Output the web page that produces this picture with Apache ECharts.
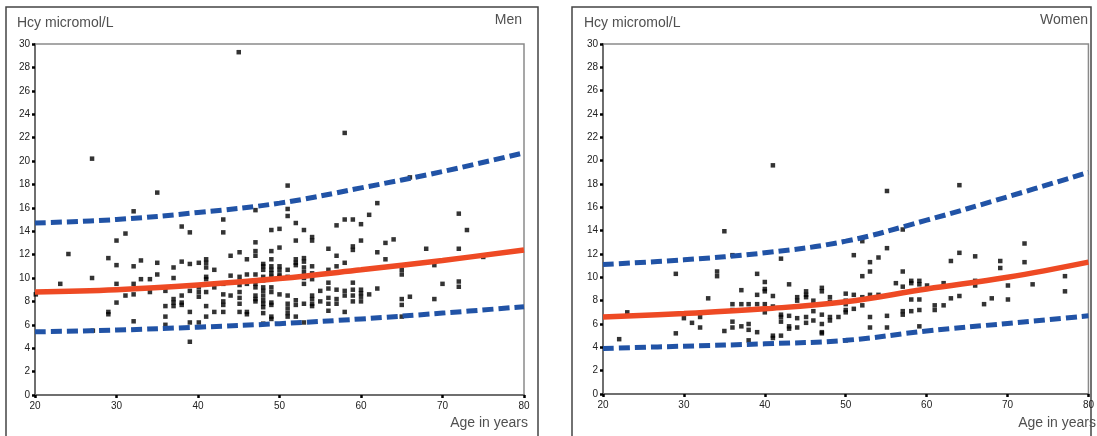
<!DOCTYPE html>
<html>
<head>
<meta charset="utf-8">
<script src="https://cdn.jsdelivr.net/npm/echarts@6/dist/echarts.min.js"></script>
<style>
  html, body { margin: 0; padding: 0; background: #fff; }
  #chart { width: 1097px; height: 436px; }
</style>
</head>
<body>
<div id="chart"></div>
<script>
const curveAges = [20, 30, 40, 50, 60, 70, 80];

const menMean  = [8.8, 9.0, 9.4, 9.95, 10.7, 11.5, 12.4];
const menUpper = [14.7, 15.0, 15.6, 16.4, 17.7, 19.1, 20.7];
const menLower = [5.4, 5.55, 5.8, 6.1, 6.5, 7.0, 7.55];

const womenMean  = [6.6, 6.9, 7.3, 7.9, 9.0, 10.0, 11.3];
const womenUpper = [11.1, 11.5, 12.1, 13.1, 14.9, 16.9, 19.0];
const womenLower = [3.9, 4.1, 4.3, 4.6, 5.4, 6.05, 6.7];

// [age, Hcy]
const menPoints = [
  [20.1,8.6],[23.1,9.5],[24.1,12.05],[27.0,20.2],[27.0,10.0],[27.1,5.5],[29.0,11.7],[29.0,7.1],[29.0,6.9],
  [30.0,13.2],[30.0,11.1],[30.0,9.5],[30.0,7.9],[31.1,13.8],[31.1,8.5],[32.1,15.7],[32.1,11.0],[32.1,9.5],
  [32.1,8.6],[32.1,6.3],[33.0,11.5],[33.0,9.9],[34.1,9.9],[34.1,8.8],[35.0,17.3],[35.0,11.3],[35.0,10.3],
  [36.0,8.9],[36.0,7.6],[36.0,6.7],[36.0,6.0],[37.0,10.9],[37.0,10.0],[37.0,8.2],[37.0,7.9],[37.0,7.6],
  [38.0,14.4],[38.0,11.4],[38.0,8.5],[38.0,7.9],[38.0,7.7],[39.0,13.9],[39.0,11.2],[39.0,8.9],[39.0,7.1],
  [39.0,6.2],[39.0,4.55],[40.1,11.3],[40.1,9.2],[40.1,8.8],[40.1,8.4],[40.1,6.2],[41.0,11.6],[41.0,11.3],
  [41.0,10.9],[41.0,10.1],[41.0,9.9],[41.0,8.8],[41.0,7.6],[41.0,6.7],[42.0,10.7],[42.0,9.2],[42.0,7.1],
  [43.1,15.0],[43.1,13.9],[43.1,9.5],[43.1,8.6],[43.1,8.0],[43.1,7.7],[43.1,7.1],[44.0,11.9],[44.0,10.2],
  [44.0,8.5],[45.0,29.3],[45.1,12.2],[45.1,10.1],[45.1,9.7],[45.1,9.4],[45.1,8.8],[45.1,8.3],[45.1,7.8],
  [45.1,7.1],[46.0,11.6],[46.0,10.3],[46.0,9.5],[46.0,7.1],[46.0,6.9],[47.05,15.8],[47.05,13.05],[47.05,12.3],
  [47.05,11.9],[47.05,10.3],[47.05,9.5],[47.05,9.2],[47.05,8.5],[47.05,8.2],[47.05,8.0],[48.0,11.2],[48.0,11.0],
  [48.0,10.7],[48.0,10.1],[48.0,9.8],[48.0,9.2],[48.0,8.9],[48.0,8.5],[48.0,8.1],[48.0,7.8],[48.0,7.5],
  [48.0,7.0],[48.0,6.1],[49.0,14.1],[49.0,12.3],[49.0,11.6],[49.0,11.0],[49.0,10.7],[49.0,10.4],[49.0,10.1],
  [49.0,9.2],[49.0,8.8],[49.0,7.9],[49.0,7.7],[49.0,6.7],[49.0,6.5],[50.0,14.2],[50.0,12.6],[50.0,11.0],
  [50.0,10.7],[50.0,10.3],[50.0,10.1],[50.0,8.6],[51.0,17.9],[51.0,15.9],[51.0,15.3],[51.0,10.7],[51.0,10.1],
  [51.0,8.5],[51.0,7.8],[51.0,7.4],[51.0,7.0],[51.0,6.7],[52.0,14.7],[52.0,13.2],[52.0,11.6],[52.0,11.3],
  [52.0,11.1],[52.0,8.1],[52.0,7.7],[52.0,6.7],[53.0,14.1],[53.0,11.7],[53.0,11.4],[53.0,10.9],[53.0,10.5],
  [53.0,10.0],[53.0,9.5],[53.0,7.8],[53.0,6.2],[54.0,13.5],[54.0,13.2],[54.0,11.0],[54.0,10.4],[54.0,9.9],
  [54.0,8.5],[54.0,8.2],[54.0,7.8],[54.0,7.6],[55.0,8.9],[55.0,8.0],[56.0,12.5],[56.0,10.7],[56.0,9.6],
  [56.0,9.1],[56.0,8.3],[56.0,7.8],[56.0,7.2],[57.0,14.5],[57.0,11.9],[57.0,11.0],[57.0,9.0],[57.0,8.2],
  [57.0,7.8],[58.0,22.4],[58.0,15.0],[58.0,11.3],[58.0,8.9],[58.0,8.5],[58.0,7.1],[59.0,15.0],[59.0,12.7],
  [59.0,12.4],[59.0,9.6],[59.0,9.0],[59.0,8.5],[59.0,8.0],[60.0,14.6],[60.0,13.2],[60.0,9.0],[60.0,8.7],
  [60.0,8.4],[60.0,8.0],[61.0,15.4],[61.0,8.6],[62.0,16.4],[62.0,12.2],[62.0,9.1],[63.0,13.0],[63.0,11.6],
  [64.0,13.3],[65.0,10.7],[65.0,10.3],[65.0,8.2],[65.0,7.7],[65.0,6.7],[66.0,18.6],[66.0,8.4],[68.0,12.5],
  [69.0,11.1],[69.0,8.2],[70.0,9.5],[72.0,15.5],[72.0,12.5],[72.0,9.7],[72.0,9.25],[73.0,14.1],[75.0,11.8]
];

const womenPoints = [
  [22.0,4.7],[23.0,7.0],[29.0,10.3],[29.0,5.2],[30.0,6.5],[31.0,6.1],[32.0,6.6],[32.0,5.7],[33.0,8.2],
  [34.1,10.5],[34.1,10.1],[35.0,13.95],[35.0,5.4],[36.0,11.9],[36.0,7.7],[36.0,7.2],[36.0,6.2],[36.0,5.7],
  [37.1,8.9],[37.1,7.7],[37.1,5.8],[38.0,7.7],[38.0,6.0],[38.0,5.5],[38.0,4.6],[39.05,10.3],[39.05,8.5],
  [39.05,7.7],[39.05,5.3],[40.0,9.6],[40.0,9.0],[40.0,8.8],[40.0,7.7],[40.0,7.0],[41.0,19.6],[41.0,8.4],
  [41.0,7.5],[41.0,5.0],[41.0,4.8],[42.0,11.6],[42.0,6.8],[42.0,6.6],[42.0,6.2],[42.0,5.0],[43.0,9.4],
  [43.0,6.7],[43.0,5.8],[43.0,5.6],[44.0,8.3],[44.0,8.0],[44.0,6.5],[44.0,5.7],[45.1,8.8],[45.1,8.5],
  [45.1,8.3],[45.1,6.6],[45.1,6.1],[46.0,8.0],[46.0,7.1],[46.0,6.3],[47.05,9.1],[47.05,8.8],[47.05,6.8],
  [47.05,6.0],[47.05,5.3],[47.05,5.2],[48.05,8.3],[48.05,7.9],[48.05,6.6],[48.05,6.3],[49.1,6.6],[50.0,8.6],
  [50.0,8.0],[50.0,7.7],[50.0,7.2],[50.0,7.0],[50.0,4.6],[51.0,11.9],[51.0,8.5],[51.0,7.3],[52.05,13.1],
  [52.05,10.1],[52.05,8.3],[52.05,7.6],[53.0,11.3],[53.0,10.5],[53.0,8.5],[53.0,6.6],[53.0,5.7],[54.05,11.7],
  [54.05,8.5],[55.1,17.4],[55.1,12.5],[55.1,6.7],[55.1,5.7],[56.2,9.5],[57.05,14.1],[57.05,10.5],[57.05,9.2],
  [57.05,7.1],[57.05,6.8],[58.1,9.7],[58.1,9.5],[58.1,8.1],[58.1,7.1],[59.1,9.7],[59.1,9.4],[59.1,8.1],
  [59.1,7.2],[59.1,5.8],[60.05,9.3],[61.0,7.6],[61.0,7.2],[62.1,9.5],[62.1,7.6],[63.0,11.4],[63.0,8.2],
  [64.05,17.9],[64.05,12.1],[64.05,8.4],[66.0,11.8],[66.0,9.7],[66.0,9.3],[67.1,7.7],[68.05,8.2],[69.1,11.4],
  [69.1,10.8],[70.05,9.3],[70.05,8.1],[72.1,12.9],[72.1,11.3],[73.1,9.4],[77.1,10.1],[77.1,8.8]
];

const zip = (xs, ys) => xs.map((x, i) => [x, ys[i]]);

const FONT = '"Liberation Sans", Arial, sans-serif';
const RED = '#ee4a24';
const BLUE = '#2153a6';

function xAxisFor(gridIndex) {
  return {
    type: 'value', gridIndex, min: 20, max: 80, interval: 10,
    axisLine: { lineStyle: { color: '#6f6f6f', width: 2 } },
    axisTick: { length: 3, lineStyle: { color: '#000', width: 2.5 } },
    axisLabel: { color: '#222', fontSize: 10, fontFamily: FONT, margin: 6 },
    splitLine: { show: false }
  };
}

function yAxisFor(gridIndex) {
  return {
    type: 'value', gridIndex, min: 0, max: 30, interval: 2,
    axisLine: { show: true, lineStyle: { color: '#6f6f6f', width: 2 } },
    axisTick: { show: true, length: 3, lineStyle: { color: '#000', width: 2.5 } },
    axisLabel: { color: '#222', fontSize: 10, fontFamily: FONT, margin: 5 },
    splitLine: { show: false }
  };
}

function scatter(idx, data) {
  return {
    type: 'scatter', xAxisIndex: idx, yAxisIndex: idx, data,
    symbol: 'rect', symbolSize: 4.5, itemStyle: { color: '#000' }, silent: true
  };
}

function curve(idx, ys, color, dashed) {
  return {
    type: 'line', xAxisIndex: idx, yAxisIndex: idx, data: zip(curveAges, ys),
    smooth: 0.4, showSymbol: false, silent: true,
    lineStyle: dashed
      ? { color, width: 5, type: [11, 5] }
      : { color, width: 5.5 }
  };
}

const chart = echarts.init(document.getElementById('chart'));

chart.setOption({
  backgroundColor: '#fff',
  animation: false,
  title: [
    { text: 'Hcy micromol/L', left: 17, top: 16 },
    { text: 'Men', right: 575, top: 13 },
    { text: 'Age in years', right: 569, top: 416 },
    { text: 'Hcy micromol/L', left: 584, top: 16 },
    { text: 'Women', right: 9, top: 13 },
    { text: 'Age in years', right: 1, top: 416 }
  ].map(t => Object.assign(t, {
    padding: 0,
    textStyle: { fontSize: 14, fontWeight: 'normal', color: '#505050', fontFamily: FONT }
  })),
  graphic: [
    { type: 'rect', shape: { x: 6, y: 7, width: 532, height: 440 },
      style: { fill: 'none', stroke: '#444', lineWidth: 1.5 }, silent: true },
    { type: 'rect', shape: { x: 572, y: 7, width: 519, height: 440 },
      style: { fill: 'none', stroke: '#444', lineWidth: 1.5 }, silent: true }
  ],
  grid: [
    { left: 35, top: 44, width: 489, height: 351, show: true, borderColor: '#8a8a8a', borderWidth: 1.5 },
    { left: 603, top: 44, width: 486, height: 350, show: true, borderColor: '#8a8a8a', borderWidth: 1.5 }
  ],
  xAxis: [xAxisFor(0), xAxisFor(1)],
  yAxis: [yAxisFor(0), yAxisFor(1)],
  series: [
    scatter(0, menPoints),
    curve(0, menUpper, BLUE, true),
    curve(0, menLower, BLUE, true),
    curve(0, menMean, RED, false),
    scatter(1, womenPoints),
    curve(1, womenUpper, BLUE, true),
    curve(1, womenLower, BLUE, true),
    curve(1, womenMean, RED, false)
  ]
});

window.addEventListener('resize', () => chart.resize());
</script>
</body>
</html>
